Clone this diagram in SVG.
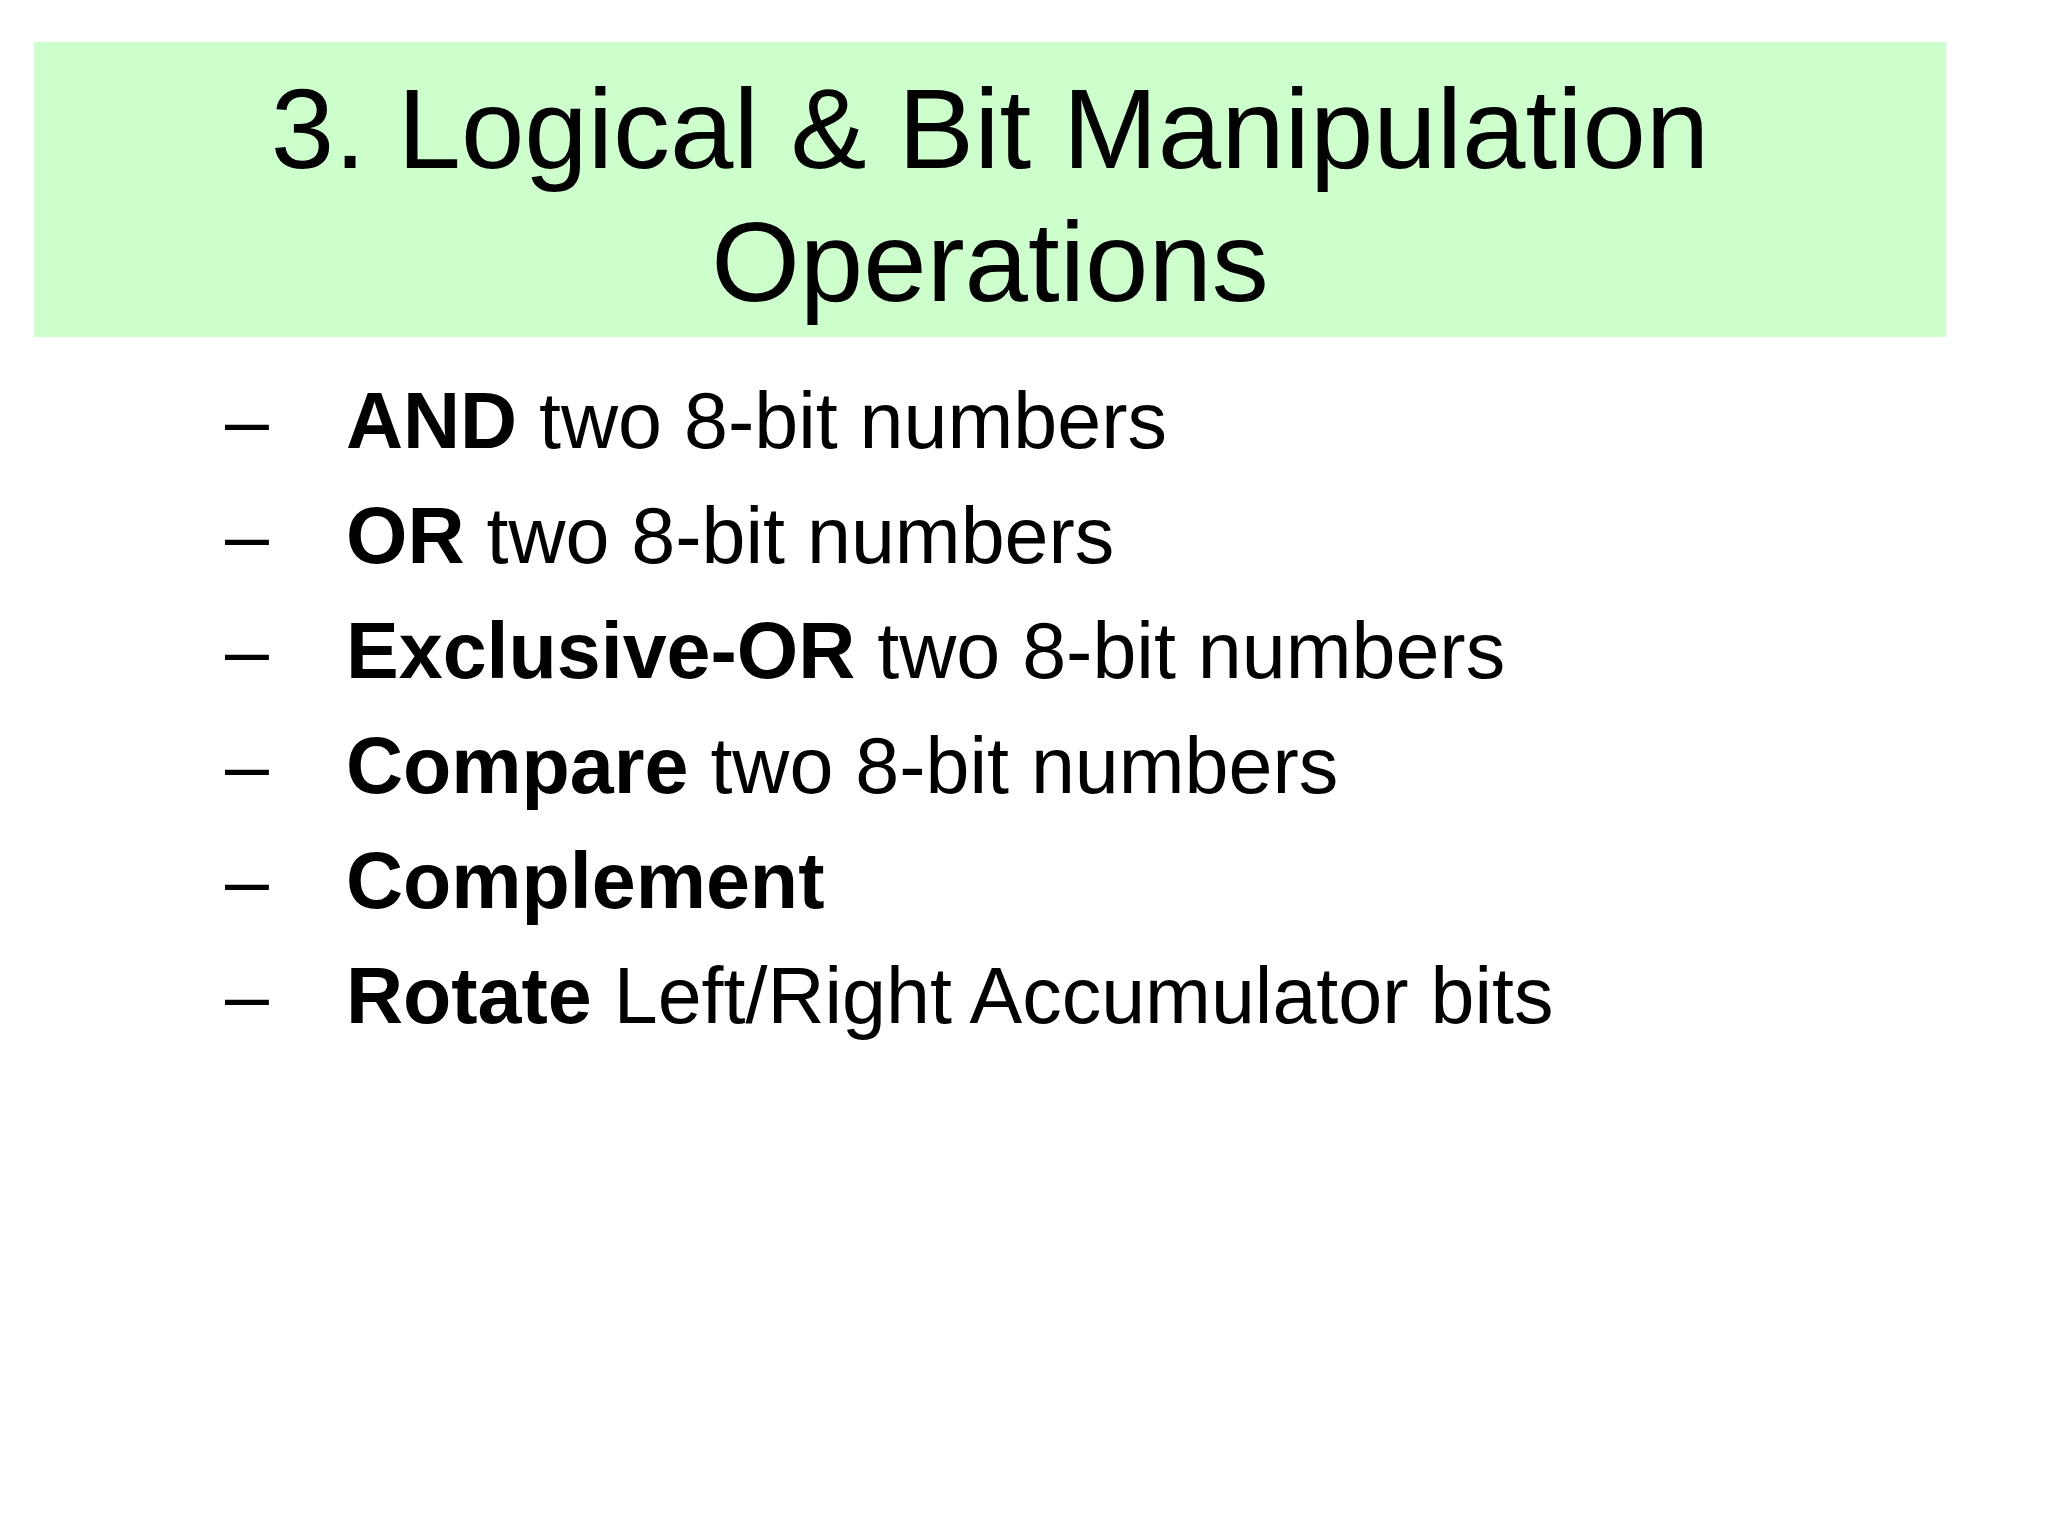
<svg xmlns="http://www.w3.org/2000/svg" width="2048" height="1536" viewBox="0 0 2048 1536">
<style>
.t{font-family:"Liberation Sans",Arial,sans-serif;fill:#000}
.b{font-family:"Liberation Sans",Arial,sans-serif;font-size:79px;fill:#000}
.k{font-weight:bold}
</style>
<rect width="2048" height="1536" fill="#fff"/>
<g id="title">
<rect x="34" y="42" width="1912" height="295" fill="#ccffcc"/>
<text class="t" x="990" y="168" font-size="114" text-anchor="middle">3. Logical &amp; Bit Manipulation</text>
<text class="t" x="990" y="301" font-size="114" text-anchor="middle">Operations</text>
</g>
<g id="bullets" class="b">
<text x="225" y="448">–</text><text x="346" y="448"><tspan class="k">AND</tspan> two 8-bit numbers</text>
<text x="225" y="563">–</text><text x="346" y="563"><tspan class="k">OR</tspan> two 8-bit numbers</text>
<text x="225" y="678">–</text><text x="346" y="678"><tspan class="k">Exclusive-OR</tspan> two 8-bit numbers</text>
<text x="225" y="793">–</text><text x="346" y="793"><tspan class="k">Compare</tspan> two 8-bit numbers</text>
<text x="225" y="908">–</text><text x="346" y="908"><tspan class="k">Complement</tspan></text>
<text x="225" y="1023">–</text><text x="346" y="1023"><tspan class="k">Rotate</tspan> Left/Right Accumulator bits</text>
</g>
</svg>
